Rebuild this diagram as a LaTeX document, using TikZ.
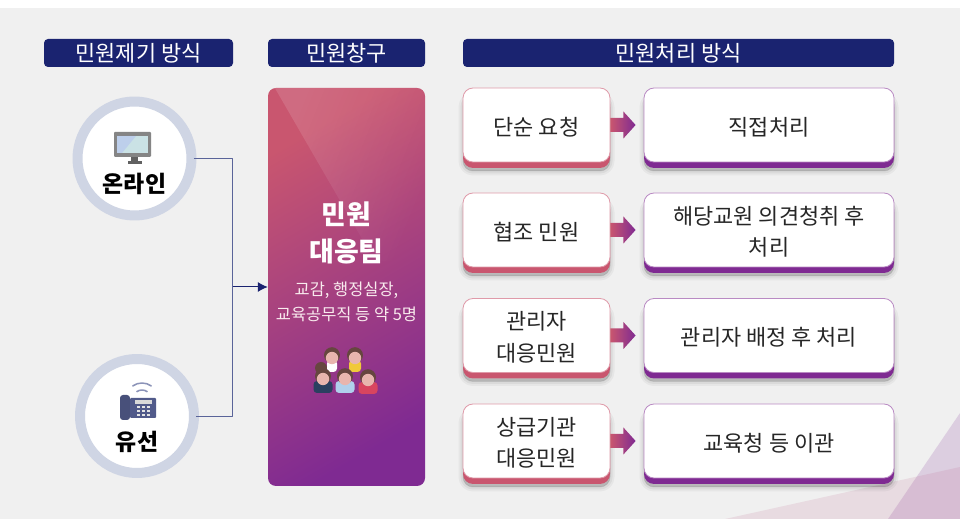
\documentclass[tikz,border=0pt]{standalone}
\usepackage{fontspec}
\setmainfont{Noto Sans CJK KR}
\usetikzlibrary{positioning,calc,shadows,fadings,arrows.meta}
\definecolor{navy}{HTML}{1A2370}
\definecolor{linkblue}{HTML}{5A6499}
\definecolor{ringgray}{HTML}{CFD5E4}
\definecolor{rose}{HTML}{C9566F}
\definecolor{plum}{HTML}{7F2A92}
\definecolor{hair}{HTML}{66463F}
\definecolor{skin}{HTML}{E8B5AE}
\definecolor{shirtnavy}{HTML}{2A4060}
\definecolor{shirtsky}{HTML}{B0D0EC}
\definecolor{shirtred}{HTML}{D8455F}
\definecolor{shirtgold}{HTML}{F0C93A}
\newcommand{\rowstrut}{\rule{0pt}{22bp}}
\tikzset{
  softshadow/.style={
    general shadow={fill=black,draw=black,line width=9bp,opacity=.04,shadow yshift=-9bp},
    general shadow={fill=black,draw=black,line width=5bp,opacity=.05,shadow yshift=-9bp},
    general shadow={fill=black,draw=black,line width=1bp,opacity=.07,shadow yshift=-9bp}},
  headbar/.style={fill=navy,rounded corners=4bp,minimum height=28bp,text=white,inner sep=0pt,
    font=\fontsize{22}{26}\selectfont},
  rowbox/.style={fill=white,rounded corners=10bp,minimum height=74bp,inner sep=0pt,align=center,
    line width=.8bp,text=black!85,font=\fontsize{22}{31.5}\selectfont,softshadow,
    preaction={fill=#1,transform canvas={yshift=-6bp}}},
  leftbox/.style={rowbox=rose,draw=rose!60,minimum width=147bp},
  rightbox/.style={rowbox=plum,draw=plum!55,minimum width=250bp},
  ringnode/.style={circle,draw=ringgray,fill=white,line width=10bp,minimum size=114bp,inner sep=0pt},
  ringlabel/.style={inner sep=0pt,font=\fontsize{23}{28}\bfseries\selectfont},
  link/.style={draw=linkblue,line width=.9bp},
}
\newcommand{\rowarrow}[2]{
  \path[left color=rose,right color=plum,yshift=-2bp] (#1.east) ++(0,7bp) -- ++(13bp,0) -- ++(0,6.5bp)
    -- ($(#2.west)-(8bp,0)$) -- ($(#1.east)+(13bp,-13.5bp)$) -- ++(0,6.5bp) -- ++(-13bp,0) -- cycle;
}
\newcommand{\teamperson}[4]{
  \begin{scope}[shift={(#1bp,#2bp)}]
    \fill[#3,rounded corners=3.5bp] (-#4bp,-16bp) rectangle (#4bp,-4bp);
    \fill[hair] (0,.8bp) circle (8bp);
    \fill[skin] (0,-2bp) circle (6.2bp);
  \end{scope}
}
\begin{document}
\begin{tikzpicture}[>={Latex[length=10bp,width=10bp]},line join=bevel,]
%% page and corner
\useasboundingbox (0bp,0bp) rectangle (960bp,519bp);
\fill[white] (0bp,0bp) rectangle (960bp,519bp);
\fill[black!6] (0bp,0bp) rectangle (960bp,511bp);
\fill[plum,opacity=.17] (960bp,106bp) -- (888bp,0bp) -- (960bp,0bp) -- cycle;
\fill[rose!70!plum,opacity=.12] (960bp,52bp) -- (725bp,0bp) -- (960bp,0bp) -- cycle;
%% headers
\node (head_raise) at (138.5bp,466bp) [headbar,minimum width=189bp] {민원제기 방식};
\node (head_desk) at (346.5bp,466bp) [headbar,minimum width=157bp] {민원창구};
\node (head_handle) at (678.5bp,466bp) [headbar,minimum width=431bp] {민원처리 방식};
%% channels
\node (node_online) at (134.5bp,360.5bp) [ringnode] {};
\node (node_phone) at (137bp,103bp) [ringnode] {};
\node (label_online) at (134.5bp,335bp) [ringlabel] {온라인};
\node (label_phone) at (137bp,77bp) [ringlabel] {유선};
%% monitor
\fill[black!48,rounded corners=1bp] (114bp,387bp) rectangle (151bp,362bp);
\fill[blue!12!cyan!12!white!90!black] (117bp,383bp) rectangle (148bp,366bp);
\fill[blue!40!white,opacity=.25] (136bp,383bp) -- (117bp,383bp) -- (117bp,366bp) -- (122bp,366bp) -- cycle;
\fill[black!62] (131bp,362bp) rectangle (138bp,358bp);
\fill[black!62] (128bp,358bp) rectangle (142bp,355bp);
%% phone
\fill[linkblue!80!black,rounded corners=3bp] (120bp,124bp) rectangle (130bp,99bp);
\fill[linkblue!90!black,rounded corners=1bp] (130bp,121bp) rectangle (156bp,101bp);
\fill[black!15] (135bp,119bp) rectangle (152bp,115bp);
\foreach \keyx in {138.5,143.5,148.5}
  \foreach \keyy in {112,108,104}
    \fill[black!10] (\keyx bp-1.8bp,\keyy bp-1.3bp) rectangle (\keyx bp+1.8bp,\keyy bp+1.3bp);
\draw[linkblue!70,line width=1.5bp,line cap=round] (142bp,120bp) +(55:16bp) arc[start angle=55,end angle=125,radius=16bp];
\draw[linkblue!70,line width=1.5bp,line cap=round] (142bp,120bp) +(55:9bp) arc[start angle=55,end angle=125,radius=9bp];
%% desk panel
\node (node_team) at (346.5bp,232bp) [rounded corners=8bp,minimum width=157bp,minimum height=398bp,
  inner sep=0pt,shading=axis,top color=rose,bottom color=plum,shading angle=30] {};
\begin{scope}
  \clip[rounded corners=8bp] (268bp,431bp) rectangle (425bp,33bp);
  \fill[white,opacity=.13,path fading=east,fading angle=-25] (275bp,431bp) -- (375bp,258bp) -- (425bp,258bp) -- (425bp,431bp) -- cycle;
\end{scope}
\node (label_team) at (346.5bp,286bp) [text=white,align=center,inner sep=0pt,
  font=\fontsize{27}{38}\bfseries\selectfont] {민원\\대응팀};
\node (label_staff) at (346.5bp,217bp) [text=white!88!rose,align=center,inner sep=0pt,
  font=\fontsize{16.5}{25}\selectfont] {교감, 행정실장,\\교육공무직 등 약 5명};
\fill[hair] (321bp,151bp) circle (6bp);
\teamperson{332}{163}{white}{5}
\teamperson{355}{163}{shirtgold}{6}
\teamperson{323}{142}{shirtnavy}{9.5}
\teamperson{345}{142}{shirtsky}{9.5}
\teamperson{368}{141}{shirtred}{9.5}
%% connectors into the desk
\coordinate (join_desk) at (232.7bp,232bp);
\draw[link] ([xshift=-3bp]node_online.east) -| (join_desk);
\draw[link] ([xshift=-3bp]node_phone.east) -| (join_desk);
\draw[navy,line width=1bp,->] (join_desk) -- (node_team.west);
%% rows
\node (req_a) at (536.5bp,394bp) [leftbox] {\rowstrut 단순 요청};
\node (res_a) at (769bp,394bp) [rightbox] {\rowstrut 직접처리};
\node (req_b) at (536.5bp,289bp) [leftbox] {\rowstrut 협조 민원};
\node (res_b) at (769bp,289bp) [rightbox] {\rowstrut 해당교원 의견청취 후\\처리};
\node (req_c) at (536.5bp,183.5bp) [leftbox] {\rowstrut 관리자\\대응민원};
\node (res_c) at (769bp,183.5bp) [rightbox] {\rowstrut 관리자 배정 후 처리};
\node (req_d) at (536.5bp,78bp) [leftbox] {\rowstrut 상급기관\\대응민원};
\node (res_d) at (769bp,78bp) [rightbox] {\rowstrut 교육청 등 이관};
\rowarrow{req_a}{res_a}
\rowarrow{req_b}{res_b}
\rowarrow{req_c}{res_c}
\rowarrow{req_d}{res_d}
%
\end{tikzpicture}
\end{document}
